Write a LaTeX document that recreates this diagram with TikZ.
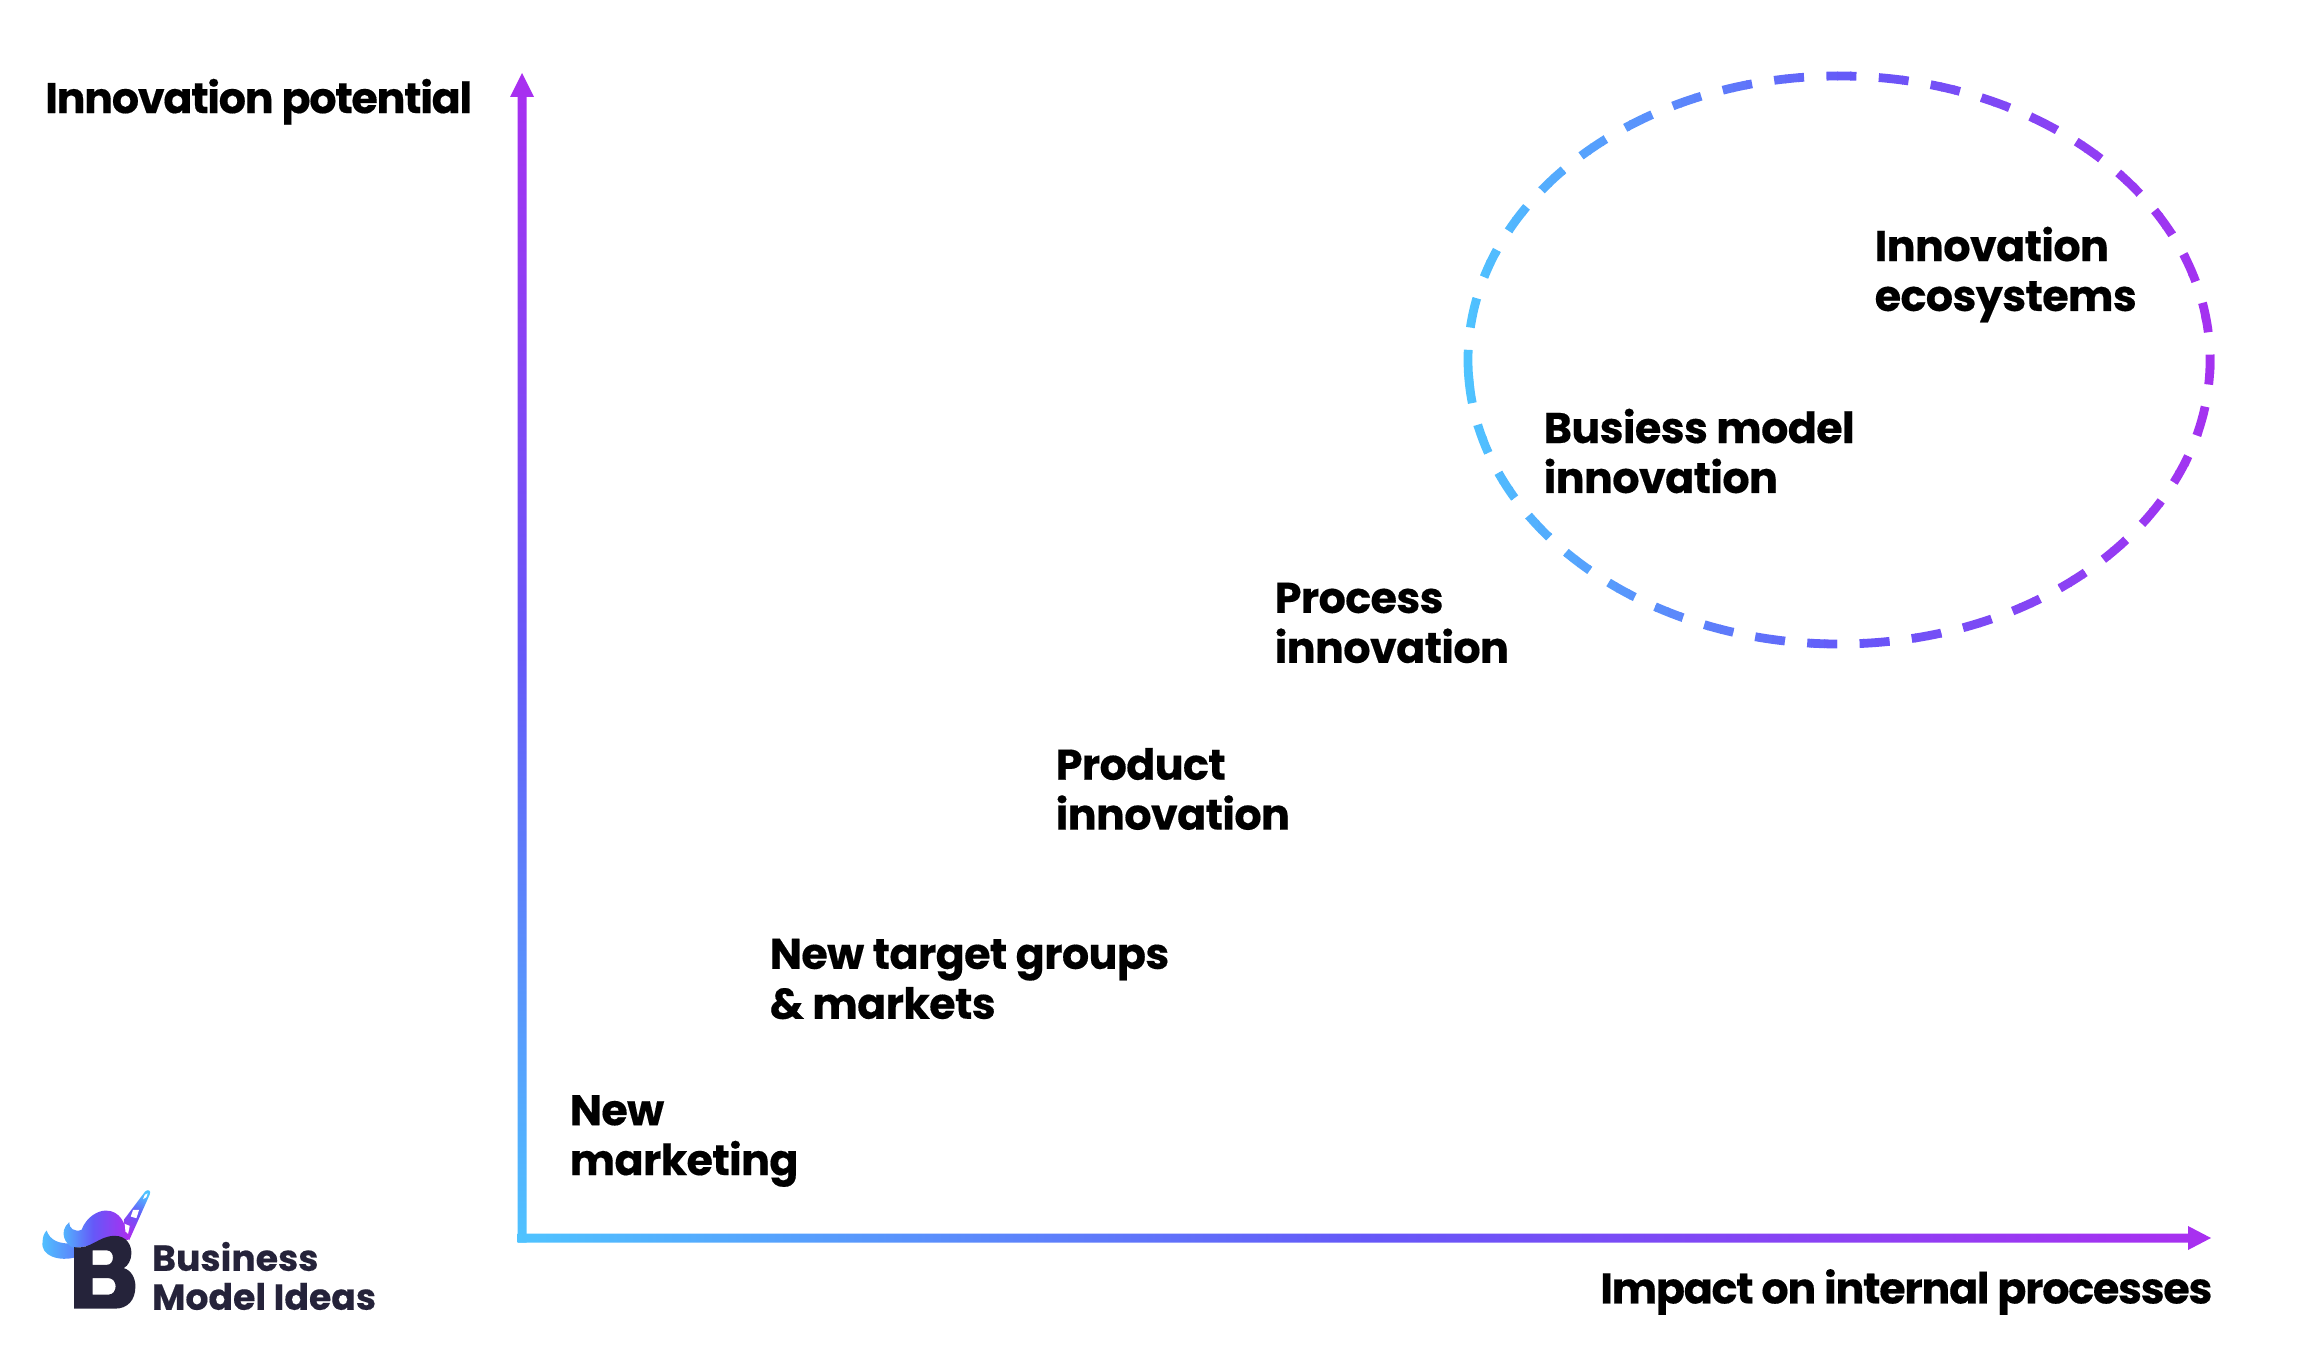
\documentclass[tikz,border=0pt]{standalone}
\usepackage{xcolor}
\usepackage{fontspec}
\setmainfont{Poppins}[BoldFeatures={FakeBold=0.35}]
\newfontfamily\axisfont{Poppins}[BoldFeatures={FakeBold=0.35}, LetterSpace=-3]
\newfontfamily\stepfont{Poppins}[BoldFeatures={FakeBold=0.35}, LetterSpace=-1.5]
\usepackage{tikz}
\usetikzlibrary{calc}
\definecolor{gradlow}{HTML}{4FC3FF}
\definecolor{gradmid}{HTML}{6558F8}
\definecolor{gradhigh}{HTML}{A92FF0}
\definecolor{logoink}{HTML}{25233A}
\tikzset{
	label/.style = {font = \fontsize{12.2}{14.2}\selectfont\stepfont\bfseries, inner sep = 0pt, align = left, anchor = west},
	axislabel/.style = {font = \fontsize{12.2}{14.2}\selectfont\axisfont\bfseries, inner sep = 0pt},
	logotext/.style = {font = \fontsize{10.3}{10.3}\selectfont\bfseries, text = logoink, inner sep = 0pt, anchor = west},
	ovaldash/.style = {line width = 2.5pt, dash pattern = on 0.30cm off 0.224cm}
}
\begin{document}
\begin{tikzpicture}
			\useasboundingbox (0,0) rectangle (23.04,13.68);
			% axes
			\coordinate (origin) at (5.22,1.30);
			\coordinate (ytip) at (5.22,12.95);
			\coordinate (xtip) at (22.11,1.30);
			\shade[bottom color = gradlow, top color = gradhigh, middle color = gradmid]
				($(origin)+(-0.045,-0.045)$) -- ($(origin)+(0.045,-0.045)$) --
				($(ytip)+(0.045,-0.24)$) -- ($(ytip)+(0.12,-0.24)$) -- (ytip) --
				($(ytip)+(-0.12,-0.24)$) -- ($(ytip)+(-0.045,-0.24)$) -- cycle;
			\shade[left color = gradlow, right color = gradhigh, middle color = gradmid]
				($(origin)+(-0.045,-0.045)$) -- ($(xtip)+(-0.23,-0.045)$) --
				($(xtip)+(-0.23,-0.12)$) -- (xtip) -- ($(xtip)+(-0.23,0.12)$) --
				($(xtip)+(-0.23,0.045)$) -- ($(origin)+(-0.045,0.045)$) -- cycle;
			% dashed oval, one clipped strip per colour step
			\coordinate (ovalcentre) at (18.39,10.08);
			\foreach \i in {0,...,59} {
				\pgfmathsetmacro{\stripx}{14.60+\i*0.13}
				\pgfmathsetmacro{\stripmix}{\i/59*200}
				\pgfmathparse{\stripmix<100 ? 1 : 0}
				\ifnum\pgfmathresult=1
					\pgfmathsetmacro{\stripval}{\stripmix}
					\colorlet{stripcolor}{gradmid!\stripval!gradlow}
				\else
					\pgfmathsetmacro{\stripval}{\stripmix-100}
					\colorlet{stripcolor}{gradhigh!\stripval!gradmid}
				\fi
				\begin{scope}
					\clip (\stripx,6) rectangle (\stripx+0.14,14);
					\draw[ovaldash, stripcolor] ($(ovalcentre)+(184:3.71cm and 2.84cm)$)
						arc[start angle = 184, delta angle = -360, x radius = 3.71cm, y radius = 2.84cm];
				\end{scope}
			}
			% labels
			\node[axislabel, anchor = west] (ylabel) at (0.445,12.663) {Innovation potential};
			\node[axislabel, anchor = east] (xlabel) at (22.13,0.76) {Impact on internal processes};
			\node[label] (marketing) at (5.69,2.27) {New\\marketing};
			\node[label] (markets) at (7.69,3.89) {New target groups\\\& markets};
			\node[label] (product) at (10.55,5.79) {Product\\innovation};
			\node[label] (process) at (12.74,7.45) {Process\\innovation};
			\node[label] (bizmodel) at (15.43,9.17) {Busiess model\\innovation};
			\node[label] (ecosystems) at (18.74,10.935) {Innovation\\ecosystems};
			% logo, typed in 3x pixels of its corner
			\begin{scope}[shift = {(0.20,2.08)}, x = 0.00333cm, y = -0.00333cm]
				\shade[left color = gradlow, right color = gradmid!60!gradlow]
					(80,212) .. controls (90,240) and (115,255) .. (165,250) -- (165,293)
					.. controls (120,305) and (60,290) .. (68,245)
					.. controls (68,232) and (72,220) .. cycle;
				\shade[left color = gradlow, right color = gradhigh, middle color = gradmid]
					(148,187) .. controls (146,205) and (165,218) .. (185,210)
					.. controls (200,170) and (235,152) .. (258,152)
					.. controls (300,152) and (320,190) .. (325,240) -- (163,265)
					.. controls (135,255) and (115,215) .. cycle;
				\shade[bottom color = gradhigh, top color = gradlow, middle color = gradmid, shading angle = -30]
					(312,180) -- (376,95) .. controls (384,86) and (396,92) .. (390,104) -- (328,242) -- (318,225) -- cycle;
				\fill[white] (340,150) -- (358,150) -- (350,175) -- (333,170) -- cycle
					(315,192) -- (330,198) -- (325,222) -- (317,215) -- cycle
					(375,105) -- (384,100) -- (380,112) -- (370,118) -- cycle;
				\fill[logoink, even odd rule]
					(163,262) .. controls (215,270) and (235,228) .. (285,228)
					.. controls (320,228) and (335,255) .. (335,280)
					.. controls (335,300) and (325,318) .. (312,325)
					.. controls (335,332) and (347,355) .. (347,380)
					.. controls (347,420) and (325,447) .. (285,447) -- (163,447) -- cycle
					(218,272) -- (262,272) .. controls (285,272) and (285,315) .. (262,315) -- (218,315) -- cycle
					(218,355) -- (265,355) .. controls (295,355) and (295,405) .. (265,405) -- (218,405) -- cycle;
			\end{scope}
			\node[logotext] (logoa) at (1.515,1.115) {Business};
			\node[logotext] (logob) at (1.515,0.715) {Model Ideas};
		\end{tikzpicture}
\end{document}
